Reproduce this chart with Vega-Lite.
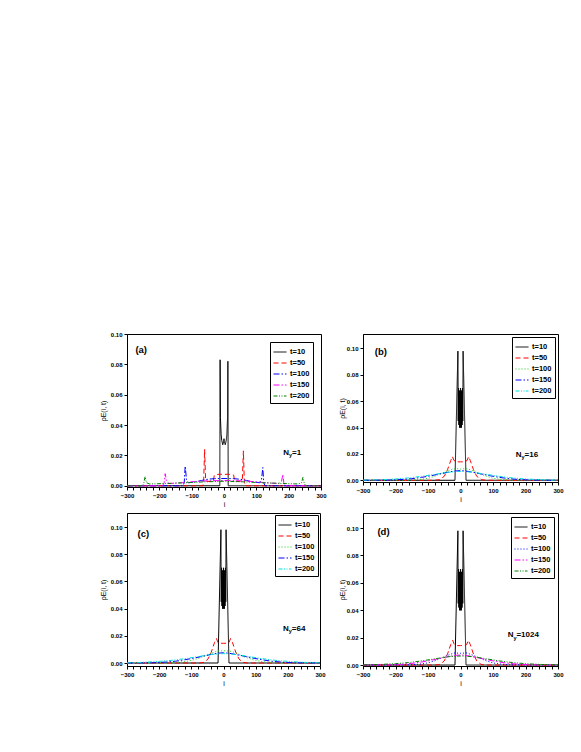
{
"$schema":"https://vega.github.io/schema/vega-lite/v6.json",
"background":"white",
"padding":{"left":98,"top":330,"right":0,"bottom":0},
"config":{
 "font":"Liberation Sans",
 "view":{"stroke":"black","strokeWidth":1},
 "axis":{"grid":false,"labelOverlap":false,"labelFlush":false,"labelBound":false,"tickCount":20,"domainColor":"black","tickColor":"black","tickSize":3,"labelFont":"Liberation Sans","labelFontWeight":"bold","labelFontSize":6,"labelColor":"black","labelPadding":2,"titleFont":"Liberation Sans","titleFontWeight":"normal","titleFontSize":7,"titleColor":"black"},
 "axisX":{"titlePadding":2,"values":[-300,-250,-200,-150,-100,-50,0,50,100,150,200,250,300],"labelExpr":"datum.value % 100 == 0 ? datum.label : ''"},
 "axisY":{"titlePadding":4},
 "legend":{"title":null,"orient":"top-right","offset":5,"strokeColor":"black","fillColor":"white","padding":3,"labelFont":"Liberation Sans","labelFontWeight":"bold","labelFontSize":7.5,"labelColor":"black","symbolType":"stroke","symbolSize":169,"symbolStrokeWidth":1,"rowPadding":-4.5,"labelOffset":3}
},
"datasets":{
 "a":[
  {"t":"t=10","i":-300,"v":0},{"t":"t=10","i":-13,"v":0},{"t":"t=10","i":-12,"v":0.083},{"t":"t=10","i":-11,"v":0.045},{"t":"t=10","i":-9,"v":0.034},{"t":"t=10","i":-7,"v":0.03},{"t":"t=10","i":-4,"v":0.027},{"t":"t=10","i":-1,"v":0.029},{"t":"t=10","i":0,"v":0.031},{"t":"t=10","i":1,"v":0.029},{"t":"t=10","i":4,"v":0.027},{"t":"t=10","i":7,"v":0.03},{"t":"t=10","i":9,"v":0.034},{"t":"t=10","i":11,"v":0.045},{"t":"t=10","i":12,"v":0.082},{"t":"t=10","i":13,"v":0},{"t":"t=10","i":300,"v":0},
  {"t":"t=50","i":-300,"v":0},{"t":"t=50","i":-66,"v":0},{"t":"t=50","i":-63,"v":0.002},{"t":"t=50","i":-60,"v":0.024},{"t":"t=50","i":-57,"v":0.005},{"t":"t=50","i":-54,"v":0.003},{"t":"t=50","i":-40,"v":0.0028},{"t":"t=50","i":-33,"v":0.003},{"t":"t=50","i":-30,"v":0.007},{"t":"t=50","i":-20,"v":0.0075},{"t":"t=50","i":-10,"v":0.0076},{"t":"t=50","i":0,"v":0.0075},{"t":"t=50","i":10,"v":0.0076},{"t":"t=50","i":20,"v":0.0075},{"t":"t=50","i":30,"v":0.007},{"t":"t=50","i":33,"v":0.003},{"t":"t=50","i":40,"v":0.0028},{"t":"t=50","i":54,"v":0.003},{"t":"t=50","i":57,"v":0.005},{"t":"t=50","i":60,"v":0.023},{"t":"t=50","i":63,"v":0.002},{"t":"t=50","i":66,"v":0},{"t":"t=50","i":300,"v":0},
  {"t":"t=100","i":-300,"v":0},{"t":"t=100","i":-127,"v":0},{"t":"t=100","i":-123,"v":0.002},{"t":"t=100","i":-120,"v":0.013},{"t":"t=100","i":-116,"v":0.004},{"t":"t=100","i":-110,"v":0.002},{"t":"t=100","i":-90,"v":0.0025},{"t":"t=100","i":-70,"v":0.0035},{"t":"t=100","i":-50,"v":0.0043},{"t":"t=100","i":-30,"v":0.0047},{"t":"t=100","i":0,"v":0.0048},{"t":"t=100","i":30,"v":0.0047},{"t":"t=100","i":50,"v":0.0043},{"t":"t=100","i":70,"v":0.0035},{"t":"t=100","i":90,"v":0.0025},{"t":"t=100","i":110,"v":0.002},{"t":"t=100","i":116,"v":0.004},{"t":"t=100","i":120,"v":0.012},{"t":"t=100","i":123,"v":0.002},{"t":"t=100","i":127,"v":0},{"t":"t=100","i":300,"v":0},
  {"t":"t=150","i":-300,"v":0},{"t":"t=150","i":-190,"v":0},{"t":"t=150","i":-185,"v":0.002},{"t":"t=150","i":-182,"v":0.008},{"t":"t=150","i":-178,"v":0.003},{"t":"t=150","i":-170,"v":0.0015},{"t":"t=150","i":-130,"v":0.002},{"t":"t=150","i":-90,"v":0.0028},{"t":"t=150","i":-50,"v":0.0033},{"t":"t=150","i":0,"v":0.0035},{"t":"t=150","i":50,"v":0.0033},{"t":"t=150","i":90,"v":0.0028},{"t":"t=150","i":130,"v":0.002},{"t":"t=150","i":170,"v":0.0015},{"t":"t=150","i":178,"v":0.003},{"t":"t=150","i":182,"v":0.0075},{"t":"t=150","i":185,"v":0.002},{"t":"t=150","i":190,"v":0},{"t":"t=150","i":300,"v":0},
  {"t":"t=200","i":-300,"v":0},{"t":"t=200","i":-252,"v":0},{"t":"t=200","i":-248,"v":0.002},{"t":"t=200","i":-244,"v":0.006},{"t":"t=200","i":-240,"v":0.002},{"t":"t=200","i":-230,"v":0.0012},{"t":"t=200","i":-180,"v":0.0015},{"t":"t=200","i":-120,"v":0.002},{"t":"t=200","i":-60,"v":0.0026},{"t":"t=200","i":0,"v":0.003},{"t":"t=200","i":60,"v":0.0026},{"t":"t=200","i":120,"v":0.002},{"t":"t=200","i":180,"v":0.0015},{"t":"t=200","i":230,"v":0.0012},{"t":"t=200","i":240,"v":0.002},{"t":"t=200","i":244,"v":0.0055},{"t":"t=200","i":248,"v":0.002},{"t":"t=200","i":252,"v":0},{"t":"t=200","i":300,"v":0}
 ],
 "b":[
  {"t":"t=10","i":-300,"v":0},{"t":"t=10","i":-17,"v":0},{"t":"t=10","i":-8,"v":0.098},{"t":"t=10","i":-7,"v":0.045},{"t":"t=10","i":-6,"v":0.07},{"t":"t=10","i":-5,"v":0.042},{"t":"t=10","i":-4,"v":0.068},{"t":"t=10","i":-3,"v":0.04},{"t":"t=10","i":-2,"v":0.068},{"t":"t=10","i":-1,"v":0.04},{"t":"t=10","i":0,"v":0.07},{"t":"t=10","i":1,"v":0.04},{"t":"t=10","i":2,"v":0.068},{"t":"t=10","i":3,"v":0.04},{"t":"t=10","i":4,"v":0.068},{"t":"t=10","i":5,"v":0.042},{"t":"t=10","i":6,"v":0.07},{"t":"t=10","i":7,"v":0.045},{"t":"t=10","i":8,"v":0.098},{"t":"t=10","i":17,"v":0},{"t":"t=10","i":300,"v":0},
  {"t":"t=50","i":-300,"v":0},{"t":"t=50","i":-80,"v":0},{"t":"t=50","i":-65,"v":0.0005},{"t":"t=50","i":-50,"v":0.003},{"t":"t=50","i":-40,"v":0.008},{"t":"t=50","i":-30,"v":0.015},{"t":"t=50","i":-25,"v":0.018},{"t":"t=50","i":-20,"v":0.015},{"t":"t=50","i":-10,"v":0.014},{"t":"t=50","i":0,"v":0.014},{"t":"t=50","i":10,"v":0.014},{"t":"t=50","i":20,"v":0.015},{"t":"t=50","i":25,"v":0.018},{"t":"t=50","i":30,"v":0.015},{"t":"t=50","i":40,"v":0.008},{"t":"t=50","i":50,"v":0.003},{"t":"t=50","i":65,"v":0.0005},{"t":"t=50","i":80,"v":0},{"t":"t=50","i":300,"v":0},
  {"t":"t=100","i":-300,"v":0},{"t":"t=100","i":-150,"v":0.0002},{"t":"t=100","i":-120,"v":0.0008},{"t":"t=100","i":-100,"v":0.0015},{"t":"t=100","i":-80,"v":0.003},{"t":"t=100","i":-60,"v":0.005},{"t":"t=100","i":-40,"v":0.007},{"t":"t=100","i":-25,"v":0.0085},{"t":"t=100","i":-10,"v":0.0088},{"t":"t=100","i":0,"v":0.0085},{"t":"t=100","i":10,"v":0.0088},{"t":"t=100","i":25,"v":0.0085},{"t":"t=100","i":40,"v":0.007},{"t":"t=100","i":60,"v":0.005},{"t":"t=100","i":80,"v":0.003},{"t":"t=100","i":100,"v":0.0015},{"t":"t=100","i":120,"v":0.0008},{"t":"t=100","i":150,"v":0.0002},{"t":"t=100","i":300,"v":0},
  {"t":"t=150","i":-300,"v":0},{"t":"t=150","i":-220,"v":0.0002},{"t":"t=150","i":-180,"v":0.0006},{"t":"t=150","i":-150,"v":0.0012},{"t":"t=150","i":-120,"v":0.0022},{"t":"t=150","i":-90,"v":0.0035},{"t":"t=150","i":-60,"v":0.005},{"t":"t=150","i":-30,"v":0.0065},{"t":"t=150","i":-10,"v":0.0072},{"t":"t=150","i":0,"v":0.0073},{"t":"t=150","i":10,"v":0.0072},{"t":"t=150","i":30,"v":0.0065},{"t":"t=150","i":60,"v":0.005},{"t":"t=150","i":90,"v":0.0035},{"t":"t=150","i":120,"v":0.0022},{"t":"t=150","i":150,"v":0.0012},{"t":"t=150","i":180,"v":0.0006},{"t":"t=150","i":220,"v":0.0002},{"t":"t=150","i":300,"v":0},
  {"t":"t=200","i":-300,"v":0.0001},{"t":"t=200","i":-250,"v":0.0004},{"t":"t=200","i":-200,"v":0.001},{"t":"t=200","i":-160,"v":0.0018},{"t":"t=200","i":-120,"v":0.003},{"t":"t=200","i":-80,"v":0.0045},{"t":"t=200","i":-40,"v":0.006},{"t":"t=200","i":-15,"v":0.0066},{"t":"t=200","i":0,"v":0.0067},{"t":"t=200","i":15,"v":0.0066},{"t":"t=200","i":40,"v":0.006},{"t":"t=200","i":80,"v":0.0045},{"t":"t=200","i":120,"v":0.003},{"t":"t=200","i":160,"v":0.0018},{"t":"t=200","i":200,"v":0.001},{"t":"t=200","i":250,"v":0.0004},{"t":"t=200","i":300,"v":0.0001}
 ],
 "c":[
  {"t":"t=10","i":-300,"v":0},{"t":"t=10","i":-17,"v":0},{"t":"t=10","i":-8,"v":0.098},{"t":"t=10","i":-7,"v":0.045},{"t":"t=10","i":-6,"v":0.07},{"t":"t=10","i":-5,"v":0.042},{"t":"t=10","i":-4,"v":0.068},{"t":"t=10","i":-3,"v":0.04},{"t":"t=10","i":-2,"v":0.068},{"t":"t=10","i":-1,"v":0.04},{"t":"t=10","i":0,"v":0.07},{"t":"t=10","i":1,"v":0.04},{"t":"t=10","i":2,"v":0.068},{"t":"t=10","i":3,"v":0.04},{"t":"t=10","i":4,"v":0.068},{"t":"t=10","i":5,"v":0.042},{"t":"t=10","i":6,"v":0.07},{"t":"t=10","i":7,"v":0.045},{"t":"t=10","i":8,"v":0.098},{"t":"t=10","i":17,"v":0},{"t":"t=10","i":300,"v":0},
  {"t":"t=50","i":-300,"v":0},{"t":"t=50","i":-75,"v":0},{"t":"t=50","i":-60,"v":0.0005},{"t":"t=50","i":-48,"v":0.003},{"t":"t=50","i":-38,"v":0.008},{"t":"t=50","i":-28,"v":0.015},{"t":"t=50","i":-22,"v":0.018},{"t":"t=50","i":-17,"v":0.015},{"t":"t=50","i":-8,"v":0.0145},{"t":"t=50","i":0,"v":0.0145},{"t":"t=50","i":8,"v":0.0145},{"t":"t=50","i":17,"v":0.015},{"t":"t=50","i":22,"v":0.018},{"t":"t=50","i":28,"v":0.015},{"t":"t=50","i":38,"v":0.008},{"t":"t=50","i":48,"v":0.003},{"t":"t=50","i":60,"v":0.0005},{"t":"t=50","i":75,"v":0},{"t":"t=50","i":300,"v":0},
  {"t":"t=100","i":-300,"v":0},{"t":"t=100","i":-160,"v":0.0002},{"t":"t=100","i":-120,"v":0.001},{"t":"t=100","i":-90,"v":0.0025},{"t":"t=100","i":-60,"v":0.005},{"t":"t=100","i":-40,"v":0.007},{"t":"t=100","i":-20,"v":0.0088},{"t":"t=100","i":0,"v":0.009},{"t":"t=100","i":20,"v":0.0088},{"t":"t=100","i":40,"v":0.0075},{"t":"t=100","i":60,"v":0.005},{"t":"t=100","i":90,"v":0.0025},{"t":"t=100","i":120,"v":0.001},{"t":"t=100","i":160,"v":0.0002},{"t":"t=100","i":300,"v":0},
  {"t":"t=150","i":-300,"v":0},{"t":"t=150","i":-220,"v":0.0002},{"t":"t=150","i":-180,"v":0.0007},{"t":"t=150","i":-150,"v":0.0013},{"t":"t=150","i":-120,"v":0.0024},{"t":"t=150","i":-90,"v":0.0037},{"t":"t=150","i":-60,"v":0.0052},{"t":"t=150","i":-30,"v":0.0067},{"t":"t=150","i":-10,"v":0.0074},{"t":"t=150","i":0,"v":0.0075},{"t":"t=150","i":10,"v":0.0074},{"t":"t=150","i":30,"v":0.0067},{"t":"t=150","i":60,"v":0.0052},{"t":"t=150","i":90,"v":0.0037},{"t":"t=150","i":120,"v":0.0024},{"t":"t=150","i":150,"v":0.0013},{"t":"t=150","i":180,"v":0.0007},{"t":"t=150","i":220,"v":0.0002},{"t":"t=150","i":300,"v":0},
  {"t":"t=200","i":-300,"v":0.0001},{"t":"t=200","i":-250,"v":0.0005},{"t":"t=200","i":-200,"v":0.0012},{"t":"t=200","i":-160,"v":0.002},{"t":"t=200","i":-120,"v":0.0032},{"t":"t=200","i":-80,"v":0.0047},{"t":"t=200","i":-40,"v":0.0062},{"t":"t=200","i":-15,"v":0.0068},{"t":"t=200","i":0,"v":0.0069},{"t":"t=200","i":15,"v":0.0068},{"t":"t=200","i":40,"v":0.0062},{"t":"t=200","i":80,"v":0.0047},{"t":"t=200","i":120,"v":0.0032},{"t":"t=200","i":160,"v":0.002},{"t":"t=200","i":200,"v":0.0012},{"t":"t=200","i":250,"v":0.0005},{"t":"t=200","i":300,"v":0.0001}
 ],
 "d":[
  {"t":"t=10","i":-300,"v":0},{"t":"t=10","i":-17,"v":0},{"t":"t=10","i":-8,"v":0.098},{"t":"t=10","i":-7,"v":0.045},{"t":"t=10","i":-6,"v":0.07},{"t":"t=10","i":-5,"v":0.042},{"t":"t=10","i":-4,"v":0.068},{"t":"t=10","i":-3,"v":0.04},{"t":"t=10","i":-2,"v":0.068},{"t":"t=10","i":-1,"v":0.04},{"t":"t=10","i":0,"v":0.07},{"t":"t=10","i":1,"v":0.04},{"t":"t=10","i":2,"v":0.068},{"t":"t=10","i":3,"v":0.04},{"t":"t=10","i":4,"v":0.068},{"t":"t=10","i":5,"v":0.042},{"t":"t=10","i":6,"v":0.07},{"t":"t=10","i":7,"v":0.045},{"t":"t=10","i":8,"v":0.098},{"t":"t=10","i":17,"v":0},{"t":"t=10","i":300,"v":0},
  {"t":"t=50","i":-300,"v":0},{"t":"t=50","i":-78,"v":0},{"t":"t=50","i":-63,"v":0.0005},{"t":"t=50","i":-50,"v":0.003},{"t":"t=50","i":-40,"v":0.008},{"t":"t=50","i":-30,"v":0.015},{"t":"t=50","i":-24,"v":0.018},{"t":"t=50","i":-19,"v":0.015},{"t":"t=50","i":-10,"v":0.0142},{"t":"t=50","i":0,"v":0.0142},{"t":"t=50","i":10,"v":0.0142},{"t":"t=50","i":19,"v":0.015},{"t":"t=50","i":24,"v":0.018},{"t":"t=50","i":30,"v":0.015},{"t":"t=50","i":40,"v":0.008},{"t":"t=50","i":50,"v":0.003},{"t":"t=50","i":63,"v":0.0005},{"t":"t=50","i":78,"v":0},{"t":"t=50","i":300,"v":0},
  {"t":"t=100","i":-300,"v":0},{"t":"t=100","i":-150,"v":0.0002},{"t":"t=100","i":-120,"v":0.0008},{"t":"t=100","i":-100,"v":0.0016},{"t":"t=100","i":-80,"v":0.003},{"t":"t=100","i":-60,"v":0.005},{"t":"t=100","i":-40,"v":0.007},{"t":"t=100","i":-20,"v":0.0088},{"t":"t=100","i":0,"v":0.0086},{"t":"t=100","i":20,"v":0.0088},{"t":"t=100","i":40,"v":0.007},{"t":"t=100","i":60,"v":0.005},{"t":"t=100","i":80,"v":0.003},{"t":"t=100","i":100,"v":0.0016},{"t":"t=100","i":120,"v":0.0008},{"t":"t=100","i":150,"v":0.0002},{"t":"t=100","i":300,"v":0},
  {"t":"t=150","i":-300,"v":0},{"t":"t=150","i":-220,"v":0.0002},{"t":"t=150","i":-180,"v":0.0006},{"t":"t=150","i":-150,"v":0.0012},{"t":"t=150","i":-120,"v":0.0022},{"t":"t=150","i":-90,"v":0.0035},{"t":"t=150","i":-60,"v":0.005},{"t":"t=150","i":-30,"v":0.0065},{"t":"t=150","i":-10,"v":0.0072},{"t":"t=150","i":0,"v":0.0073},{"t":"t=150","i":10,"v":0.0072},{"t":"t=150","i":30,"v":0.0065},{"t":"t=150","i":60,"v":0.005},{"t":"t=150","i":90,"v":0.0035},{"t":"t=150","i":120,"v":0.0022},{"t":"t=150","i":150,"v":0.0012},{"t":"t=150","i":180,"v":0.0006},{"t":"t=150","i":220,"v":0.0002},{"t":"t=150","i":300,"v":0},
  {"t":"t=200","i":-300,"v":0.0001},{"t":"t=200","i":-250,"v":0.0004},{"t":"t=200","i":-200,"v":0.001},{"t":"t=200","i":-160,"v":0.0018},{"t":"t=200","i":-120,"v":0.003},{"t":"t=200","i":-80,"v":0.0045},{"t":"t=200","i":-40,"v":0.006},{"t":"t=200","i":-15,"v":0.0065},{"t":"t=200","i":0,"v":0.0066},{"t":"t=200","i":15,"v":0.0065},{"t":"t=200","i":40,"v":0.006},{"t":"t=200","i":80,"v":0.0045},{"t":"t=200","i":120,"v":0.003},{"t":"t=200","i":160,"v":0.0018},{"t":"t=200","i":200,"v":0.001},{"t":"t=200","i":250,"v":0.0004},{"t":"t=200","i":300,"v":0.0001}
 ]
},
"columns":2,
"bounds":"flush",
"spacing":{"row":26,"column":42},
"resolve":{"scale":{"x":"independent","y":"independent","color":"independent","strokeDash":"independent"},"legend":{"color":"independent","strokeDash":"independent"}},
"concat":[
 {"width":194,"height":153,"data":{"name":"a"},
  "layer":[
   {"mark":{"type":"line","strokeWidth":1,"clip":true},
    "encoding":{
     "x":{"field":"i","type":"quantitative","scale":{"domain":[-300,300],"nice":false},"axis":{"tickCount":20,"labelOverlap":false,"title":"i"}},
     "y":{"field":"v","type":"quantitative","scale":{"domain":[-0.0008,0.1],"nice":false,"zero":false},"axis":{"values":[0,0.02,0.04,0.06,0.08,0.1],"tickCount":20,"labelOverlap":false,"format":".2f","title":"ρE(i, t)"}},
     "color":{"field":"t","type":"nominal","sort":null,"scale":{"domain":["t=10","t=50","t=100","t=150","t=200"],"range":["#000000","#ff0000","#0000ff","#ff00ff","#008000"]},"legend":{"offset":8}},
     "strokeDash":{"field":"t","type":"nominal","sort":null,"scale":{"domain":["t=10","t=50","t=100","t=150","t=200"],"range":[[1,0],[5,3],[6,2,1.5,2],[6,2,1.5,2],[4,1.5,1,1.5,1,1.5]]},"legend":{"offset":8}}
    }},
   {"data":{"values":[{}]},"mark":{"type":"text","fontWeight":"bold","fontSize":9.5,"align":"center","baseline":"middle"},"encoding":{"x":{"datum":-256},"y":{"datum":0.0895},"text":{"value":"(a)"}}},
   {"data":{"values":[{}]},"mark":{"type":"text","fontWeight":"bold","fontSize":8,"align":"left","baseline":"middle"},"encoding":{"x":{"datum":183},"y":{"datum":0.0219},"text":{"value":"N"}}},
   {"data":{"values":[{}]},"mark":{"type":"text","fontWeight":"bold","fontSize":5.5,"align":"left","baseline":"middle","dx":5.8,"dy":2.5},"encoding":{"x":{"datum":183},"y":{"datum":0.0219},"text":{"value":"y"}}},
   {"data":{"values":[{}]},"mark":{"type":"text","fontWeight":"bold","fontSize":8,"align":"left","baseline":"middle","dx":8.8},"encoding":{"x":{"datum":183},"y":{"datum":0.0219},"text":{"value":"=1"}}}
  ]},
 {"width":195,"height":148,"data":{"name":"b"},
  "layer":[
   {"mark":{"type":"line","strokeWidth":1,"clip":true},
    "encoding":{
     "x":{"field":"i","type":"quantitative","scale":{"domain":[-300,300],"nice":false},"axis":{"tickCount":20,"labelOverlap":false,"title":"i"}},
     "y":{"field":"v","type":"quantitative","scale":{"domain":[-0.0013,0.111],"nice":false,"zero":false},"axis":{"values":[0,0.02,0.04,0.06,0.08,0.1],"tickCount":20,"labelOverlap":false,"format":".2f","title":"ρE(i, t)","titlePadding":1}},
     "color":{"field":"t","type":"nominal","sort":null,"scale":{"domain":["t=10","t=50","t=100","t=150","t=200"],"range":["#000000","#ff0000","#22cc22","#0000ff","#00dddd"]},"legend":{"offset":3}},
     "strokeDash":{"field":"t","type":"nominal","sort":null,"scale":{"domain":["t=10","t=50","t=100","t=150","t=200"],"range":[[1,0],[5,3],[1,2],[6,2,1.5,2],[4,1.5,1,1.5,1,1.5]]},"legend":{"offset":3}}
    }},
   {"data":{"values":[{}]},"mark":{"type":"text","fontWeight":"bold","fontSize":9.5,"align":"center","baseline":"middle"},"encoding":{"x":{"datum":-245},"y":{"datum":0.097},"text":{"value":"(b)"}}},
   {"data":{"values":[{}]},"mark":{"type":"text","fontWeight":"bold","fontSize":8,"align":"left","baseline":"middle"},"encoding":{"x":{"datum":170},"y":{"datum":0.0192},"text":{"value":"N"}}},
   {"data":{"values":[{}]},"mark":{"type":"text","fontWeight":"bold","fontSize":5.5,"align":"left","baseline":"middle","dx":5.8,"dy":2.5},"encoding":{"x":{"datum":170},"y":{"datum":0.0192},"text":{"value":"y"}}},
   {"data":{"values":[{}]},"mark":{"type":"text","fontWeight":"bold","fontSize":8,"align":"left","baseline":"middle","dx":8.8},"encoding":{"x":{"datum":170},"y":{"datum":0.0192},"text":{"value":"=16"}}}
  ]},
 {"width":193,"height":153,"data":{"name":"c"},
  "layer":[
   {"mark":{"type":"line","strokeWidth":1,"clip":true},
    "encoding":{
     "x":{"field":"i","type":"quantitative","scale":{"domain":[-300,300],"nice":false},"axis":{"tickCount":20,"labelOverlap":false,"title":"i"}},
     "y":{"field":"v","type":"quantitative","scale":{"domain":[-0.0022,0.1103],"nice":false,"zero":false},"axis":{"values":[0,0.02,0.04,0.06,0.08,0.1],"tickCount":20,"labelOverlap":false,"format":".2f","title":"ρE(i, t)"}},
     "color":{"field":"t","type":"nominal","sort":null,"scale":{"domain":["t=10","t=50","t=100","t=150","t=200"],"range":["#000000","#ff0000","#22cc22","#0000ff","#00dddd"]},"legend":{"offset":2}},
     "strokeDash":{"field":"t","type":"nominal","sort":null,"scale":{"domain":["t=10","t=50","t=100","t=150","t=200"],"range":[[1,0],[5,3],[1,2],[6,2,1.5,2],[4,1.5,1,1.5,1,1.5]]},"legend":{"offset":2}}
    }},
   {"data":{"values":[{}]},"mark":{"type":"text","fontWeight":"bold","fontSize":9.5,"align":"center","baseline":"middle"},"encoding":{"x":{"datum":-249},"y":{"datum":0.095},"text":{"value":"(c)"}}},
   {"data":{"values":[{}]},"mark":{"type":"text","fontWeight":"bold","fontSize":8,"align":"left","baseline":"middle"},"encoding":{"x":{"datum":185},"y":{"datum":0.0252},"text":{"value":"N"}}},
   {"data":{"values":[{}]},"mark":{"type":"text","fontWeight":"bold","fontSize":5.5,"align":"left","baseline":"middle","dx":5.8,"dy":2.5},"encoding":{"x":{"datum":185},"y":{"datum":0.0252},"text":{"value":"y"}}},
   {"data":{"values":[{}]},"mark":{"type":"text","fontWeight":"bold","fontSize":8,"align":"left","baseline":"middle","dx":8.8},"encoding":{"x":{"datum":185},"y":{"datum":0.0252},"text":{"value":"=64"}}}
  ]},
 {"width":195,"height":153,"data":{"name":"d"},
  "layer":[
   {"mark":{"type":"line","strokeWidth":1,"clip":true},
    "encoding":{
     "x":{"field":"i","type":"quantitative","scale":{"domain":[-300,300],"nice":false},"axis":{"tickCount":20,"labelOverlap":false,"title":"i"}},
     "y":{"field":"v","type":"quantitative","scale":{"domain":[-0.0007,0.111],"nice":false,"zero":false},"axis":{"values":[0,0.02,0.04,0.06,0.08,0.1],"tickCount":20,"labelOverlap":false,"format":".2f","title":"ρE(i, t)","titlePadding":1}},
     "color":{"field":"t","type":"nominal","sort":null,"scale":{"domain":["t=10","t=50","t=100","t=150","t=200"],"range":["#000000","#ff0000","#0000ff","#ff00ff","#008000"]},"legend":{"offset":4}},
     "strokeDash":{"field":"t","type":"nominal","sort":null,"scale":{"domain":["t=10","t=50","t=100","t=150","t=200"],"range":[[1,0],[5,3],[1,2],[6,2,1.5,2],[4,1.5,1,1.5,1,1.5]]},"legend":{"offset":4}}
    }},
   {"data":{"values":[{}]},"mark":{"type":"text","fontWeight":"bold","fontSize":9.5,"align":"center","baseline":"middle"},"encoding":{"x":{"datum":-237},"y":{"datum":0.097},"text":{"value":"(d)"}}},
   {"data":{"values":[{}]},"mark":{"type":"text","fontWeight":"bold","fontSize":8,"align":"left","baseline":"middle"},"encoding":{"x":{"datum":145},"y":{"datum":0.0219},"text":{"value":"N"}}},
   {"data":{"values":[{}]},"mark":{"type":"text","fontWeight":"bold","fontSize":5.5,"align":"left","baseline":"middle","dx":5.8,"dy":2.5},"encoding":{"x":{"datum":145},"y":{"datum":0.0219},"text":{"value":"y"}}},
   {"data":{"values":[{}]},"mark":{"type":"text","fontWeight":"bold","fontSize":8,"align":"left","baseline":"middle","dx":8.8},"encoding":{"x":{"datum":145},"y":{"datum":0.0219},"text":{"value":"=1024"}}}
  ]}
]
}
